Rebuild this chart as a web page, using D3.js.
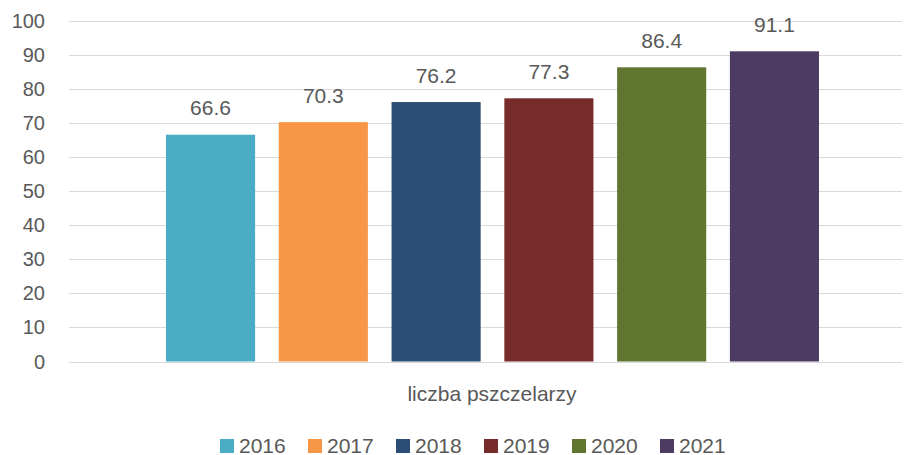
<!DOCTYPE html>
<html lang="pl">
<head>
<meta charset="UTF-8">
<title>liczba pszczelarzy</title>
<script src="https://d3js.org/d3.v7.min.js"></script>
<style>
  body { margin: 0; background: #fff; }
  text { font-family: "Liberation Sans", Arial, sans-serif; fill: #595959; }
</style>
</head>
<body>
<div id="chart"></div>
<script>
// data
const years = ["2016", "2017", "2018", "2019", "2020", "2021"];
const values = [66.6, 70.3, 76.2, 77.3, 86.4, 91.1];
const colors = ["#4BACC6", "#F79646", "#2C4D75", "#772C2A", "#5F7530", "#4D3B62"];
const yTicks = [0, 10, 20, 30, 40, 50, 60, 70, 80, 90, 100];
const categoryLabel = "liczba pszczelarzy";

const W = 904, H = 455;
const svg = d3.select("#chart").append("svg")
    .attr("width", W).attr("height", H);

const y = d3.scaleLinear().domain([0, 100]).range([361.5, 21]);
const plotLeft = 69, plotRight = 902;

// bars sit inside the single category group
const x = d3.scaleBand()
    .domain(years)
    .range([166, 819])
    .paddingInner(0.21)
    .paddingOuter(0);

// gridlines
svg.append("g")
    .selectAll("line")
    .data(yTicks)
    .join("line")
    .attr("x1", plotLeft).attr("x2", plotRight)
    .attr("y1", d => Math.round(y(d)) + 0.5)
    .attr("y2", d => Math.round(y(d)) + 0.5)
    .attr("stroke", "#d9d9d9")
    .attr("stroke-width", 1);

// y tick labels
svg.append("g")
    .selectAll("text")
    .data(yTicks)
    .join("text")
    .attr("x", 45)
    .attr("y", d => y(d))
    .attr("dy", "0.35em")
    .attr("text-anchor", "end")
    .style("font-size", "20px")
    .text(d => d);

// bars
svg.append("g")
    .selectAll("rect")
    .data(years)
    .join("rect")
    .attr("x", d => x(d))
    .attr("width", x.bandwidth())
    .attr("y", (d, i) => y(values[i]))
    .attr("height", (d, i) => y(0) - y(values[i]))
    .attr("fill", (d, i) => colors[i]);

// value labels
svg.append("g")
    .selectAll("text")
    .data(years)
    .join("text")
    .attr("x", d => x(d) + x.bandwidth() / 2)
    .attr("y", (d, i) => y(values[i]) - 19.5)
    .attr("text-anchor", "middle")
    .style("font-size", "21px")
    .text((d, i) => values[i].toFixed(1));

// category label
svg.append("text")
    .attr("x", 492)
    .attr("y", 401)
    .attr("text-anchor", "middle")
    .style("font-size", "21px")
    .text(categoryLabel);

// legend
const legend = svg.append("g")
    .selectAll("g")
    .data(years)
    .join("g")
    .attr("transform", (d, i) => `translate(${220 + i * 88}, 439)`);

legend.append("rect")
    .attr("width", 14).attr("height", 14)
    .attr("fill", (d, i) => colors[i]);

legend.append("text")
    .attr("x", 19)
    .attr("y", 13.5)
    .style("font-size", "21px")
    .text(d => d);
</script>
</body>
</html>
